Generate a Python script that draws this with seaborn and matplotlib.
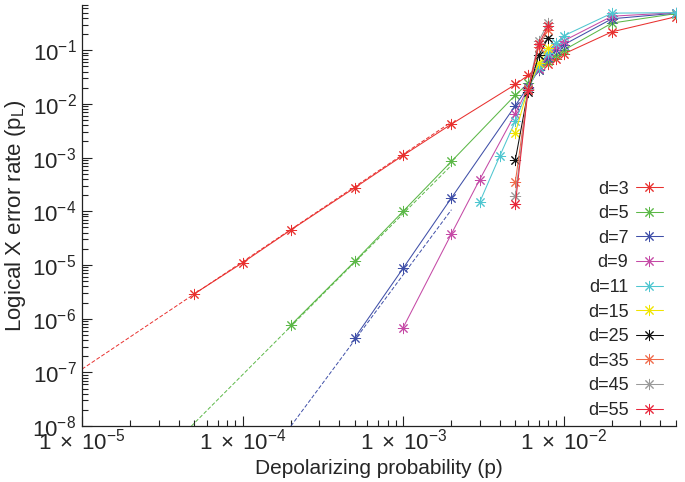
import numpy as np
import pandas as pd
import seaborn as sns
import matplotlib.pyplot as plt
from matplotlib.ticker import FuncFormatter, LogLocator, NullFormatter

# values
dists = [3, 5, 7, 9, 11, 15, 25, 35, 45, 55]
colors = ['#e8312f', '#5cb848', '#3f4fa8', '#c54aa6', '#4fc6d0',
          '#f0e400', '#111111', '#f06a4a', '#9a9a9a', '#e8283c']

p_d3 = [5e-5, 1e-4, 2e-4, 5e-4, 1e-3, 2e-3, 5e-3, 6e-3, 7e-3, 8e-3, 9e-3, 1e-2, 2e-2, 5e-2]
pl_d3 = [2.9e-6, 1.1e-5, 4.5e-5, 2.75e-4, 1.1e-3, 4.2e-3, 0.023, 0.034, 0.044, 0.055, 0.068, 0.085, 0.22, 0.42]
p_d5 = [2e-4, 5e-4, 1e-3, 2e-3, 5e-3, 6e-3, 7e-3, 8e-3, 9e-3, 1e-2, 2e-2, 5e-2]
pl_d5 = [7.6e-7, 1.17e-5, 1.0e-4, 8.5e-4, 0.0146, 0.024, 0.042, 0.062, 0.082, 0.10, 0.32, 0.48]
p_d7 = [5e-4, 1e-3, 2e-3, 5e-3, 6e-3, 7e-3, 8e-3, 9e-3, 1e-2, 2e-2, 5e-2]
pl_d7 = [4.4e-7, 8.7e-6, 1.78e-4, 9.3e-3, 0.021, 0.043, 0.072, 0.10, 0.126, 0.385, 0.49]
p_d9 = [1e-3, 2e-3, 3e-3, 5e-3, 6e-3, 7e-3, 8e-3, 9e-3, 1e-2, 2e-2, 5e-2]
pl_d9 = [6.8e-7, 3.8e-5, 3.9e-4, 6.6e-3, 0.020, 0.045, 0.08, 0.117, 0.149, 0.43, 0.50]
p_d11 = [3e-3, 4e-3, 5e-3, 6e-3, 7e-3, 8e-3, 9e-3, 1e-2, 2e-2, 5e-2]
pl_d11 = [1.48e-4, 1.07e-3, 4.8e-3, 0.019, 0.048, 0.09, 0.135, 0.185, 0.49, 0.50]
p_big = [5e-3, 6e-3, 7e-3, 8e-3]
pl_d15 = [2.9e-3, 0.019, 0.057, 0.11]
pl_d25 = [9.1e-4, 0.017, 0.08, 0.17]
pl_d35 = [3.5e-4, 0.018, 0.117, 0.24]
pl_d45 = [1.9e-4, 0.019, 0.15, 0.32]
pl_d55 = [1.35e-4, 0.018, 0.13, 0.28]

xs = [p_d3, p_d5, p_d7, p_d9, p_d11, p_big, p_big, p_big, p_big, p_big]
ys = [pl_d3, pl_d5, pl_d7, pl_d9, pl_d11, pl_d15, pl_d25, pl_d35, pl_d45, pl_d55]

# dashed fit lines (end points)
fit_p = {3: [1e-5, 2e-3], 5: [4.8e-5, 2e-3], 7: [2e-4, 2e-3]}
fit_pl = {3: [1.15e-7, 4.6e-3], 5: [1e-8, 7.2e-4], 7: [1e-8, 1.07e-4]}

sns.set_style('ticks')
plt.rcParams['font.family'] = ['Liberation Sans', 'DejaVu Sans']
plt.rcParams['mathtext.fontset'] = 'custom'
plt.rcParams['mathtext.rm'] = 'Liberation Sans'
plt.rcParams['mathtext.it'] = 'Liberation Sans'

fig = plt.figure(figsize=(6.85, 4.82), dpi=100)
ax = fig.add_axes([0.1197, 0.116, 0.867, 0.874])

for i, d in enumerate(dists):
    if d in fit_p:
        sns.lineplot(x=fit_p[d], y=fit_pl[d], ax=ax, color=colors[i], lw=0.7,
                     linestyle=(0, (4, 2)), legend=False)
for i, d in enumerate(dists):
    df = pd.DataFrame({'p': xs[i], 'pL': ys[i]})
    sns.lineplot(data=df, x='p', y='pL', ax=ax, color=colors[i], lw=0.75,
                 marker=(8, 2, 0), markersize=8, markeredgewidth=0.7,
                 markeredgecolor=colors[i], label=f'd={d}', estimator=None)

ax.set_xscale('log')
ax.set_yscale('log')
ax.set_xlim(1e-5, 5e-2)
ax.set_ylim(1e-8, 0.7)

ax.xaxis.set_major_locator(LogLocator(base=10, numticks=10))
ax.yaxis.set_major_locator(LogLocator(base=10, numticks=12))
ax.xaxis.set_minor_locator(LogLocator(base=10, subs=np.arange(2, 10), numticks=20))
ax.yaxis.set_minor_locator(LogLocator(base=10, subs=np.arange(2, 10), numticks=20))
ax.xaxis.set_minor_formatter(NullFormatter())
ax.yaxis.set_minor_formatter(NullFormatter())
ax.xaxis.set_major_formatter(FuncFormatter(
    lambda v, pos: r'$\mathregular{1\;\times\;10^{%d}}$' % round(np.log10(v))))
ax.yaxis.set_major_formatter(FuncFormatter(
    lambda v, pos: r'$\mathregular{10^{%d}}$' % round(np.log10(v))))

ax.tick_params(which='both', direction='in', labelsize=16, color='#222222')
ax.tick_params(which='major', length=7, width=0.8)
ax.tick_params(which='minor', length=4, width=0.8)
ax.tick_params(axis='y', pad=4)
ax.tick_params(axis='x', pad=2)
sns.despine(ax=ax)
for s in ['left', 'bottom']:
    ax.spines[s].set_linewidth(0.9)
    ax.spines[s].set_color('#222222')

ax.set_xlabel('Depolarizing probability (p)', fontsize=15, labelpad=3)
ax.set_ylabel(r'Logical X error rate (p$_\mathregular{L}$)', fontsize=16, labelpad=3)

ax.legend(loc='lower right', bbox_to_anchor=(0.99, 0.0), frameon=False,
          markerfirst=False, fontsize=13, handlelength=1.5, handletextpad=0.4,
          labelspacing=0.42, borderaxespad=0)

fig.savefig('out.png', dpi=100)
